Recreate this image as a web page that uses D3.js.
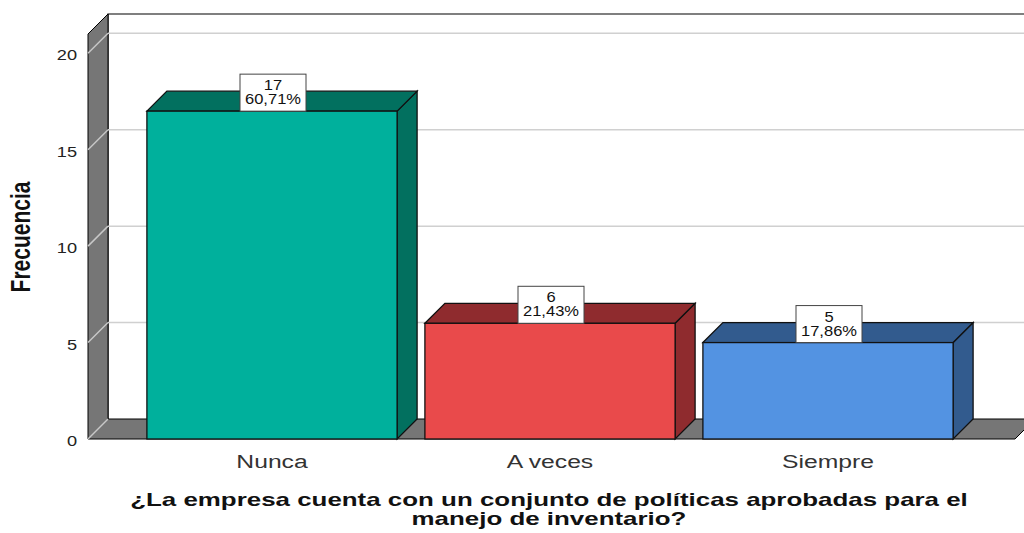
<!DOCTYPE html>
<html>
<head>
<meta charset="utf-8">
<script src="https://cdn.jsdelivr.net/npm/d3@7"></script>
<style>
  body { margin: 0; background: #fff; }
  svg { display: block; font-family: "Liberation Sans", Arial, sans-serif; }
</style>
</head>
<body>
<svg id="chart"></svg>
<script>
var categories = ["Nunca", "A veces", "Siempre"];
var counts = [17, 6, 5];
var percents = ["60,71%", "21,43%", "17,86%"];
var yTicks = [0, 5, 10, 15, 20];
var xTitle = ["¿La empresa cuenta con un conjunto de políticas aprobadas para el", "manejo de inventario?"];
var yTitle = "Frecuencia";

var fronts = ["#00b09c", "#e94a4b", "#5393e2"],
	sides = ["#02705f", "#8f2b2e", "#325b8e"];

var width = 1024, height = 533,
	depth = {x: 20, y: -20},
	left = 88, right = 1015,
	stretch = 1.3,
	x = d3.scaleBand().domain(categories).range([133, 967]).paddingInner(0.1).paddingOuter(0.05),
	y = d3.scaleLinear().domain([0, 21]).range([439, 34]);

var svg = d3.select("#chart").attr("width", width).attr("height", height);

function pts(a) { return a.map(function(p) { return p.join(","); }).join(" "); }

// the original picture is horizontally stretched, so text is too
function place(sel, fx, fy, sx) {
	return sel.attr("transform", function(d, i) {
		return "translate(" + fx(d, i) + "," + fy(d, i) + ") scale(" + sx + ",1)";
	});
}

// back wall outline
svg.append("path")
	.attr("d", "M" + (left + depth.x) + "," + (y(0) + depth.y) + "V" + (y(21) + depth.y) + "H" + (width + 5))
	.attr("fill", "none").attr("stroke", "#000").attr("stroke-width", 1.2);

// left wall
svg.append("polygon")
	.attr("points", pts([[left, y(21)], [left + depth.x, y(21) + depth.y], [left + depth.x, y(0) + depth.y], [left, y(0)]]))
	.attr("fill", "#767676").attr("stroke", "#000").attr("stroke-width", 1);

// floor
svg.append("polygon")
	.attr("points", pts([[left, y(0)], [left + depth.x, y(0) + depth.y], [right + depth.x, y(0) + depth.y], [right, y(0)]]))
	.attr("fill", "#767676").attr("stroke", "#000").attr("stroke-width", 1);

// gridlines
var grid = svg.append("g");
yTicks.forEach(function(t) {
	if (t > 0) {
		grid.append("line")
			.attr("x1", left + depth.x).attr("x2", width + 5)
			.attr("y1", y(t) + depth.y).attr("y2", y(t) + depth.y)
			.attr("stroke", "#d0d0d0").attr("stroke-width", 1.5);
	}
	grid.append("line")
		.attr("x1", left).attr("x2", left + depth.x)
		.attr("y1", y(t)).attr("y2", y(t) + depth.y)
		.attr("stroke", "#c8c8c8").attr("stroke-width", 1.5);
});

// y tick labels
place(svg.append("g").selectAll("text")
	.data(yTicks)
	.enter().append("text"), function() { return 77; }, function(d) { return y(d) + 7; }, stretch)
	.attr("text-anchor", "end").attr("font-size", 14).attr("fill", "#222")
	.text(function(d) { return d; });

// bars
var bars = svg.append("g").selectAll("g")
	.data(categories)
	.enter().append("g");

bars.each(function(c, i) {
	var g = d3.select(this),
		x0 = x(c), x1 = x(c) + x.bandwidth(),
		yt = y(counts[i]), yb = y(0);
	g.append("polygon")
		.attr("points", pts([[x1, yt], [x1 + depth.x, yt + depth.y], [x1 + depth.x, yb + depth.y], [x1, yb]]))
		.attr("fill", sides[i]).attr("stroke", "#111").attr("stroke-width", 1.3);
	g.append("polygon")
		.attr("points", pts([[x0, yt], [x0 + depth.x, yt + depth.y], [x1 + depth.x, yt + depth.y], [x1, yt]]))
		.attr("fill", sides[i]).attr("stroke", "#111").attr("stroke-width", 1.3);
	g.append("rect")
		.attr("x", x0).attr("y", yt).attr("width", x.bandwidth()).attr("height", yb - yt)
		.attr("fill", fronts[i]).attr("stroke", "#111").attr("stroke-width", 1.3);

	// value label
	var cx = x0 + x.bandwidth() / 2 + 1;
	g.append("rect")
		.attr("x", cx - 33).attr("y", yt - 37).attr("width", 66).attr("height", 37)
		.attr("fill", "#fff").attr("stroke", "#444").attr("stroke-width", 1);
	place(g.selectAll("text.v")
		.data([counts[i], percents[i]])
		.enter().append("text").attr("class", "v"),
		function() { return cx; }, function(d, j) { return yt - 21 + j * 14; }, 1.18)
		.attr("text-anchor", "middle").attr("font-size", 14).attr("fill", "#111")
		.text(function(d) { return d; });
});

// category labels
place(svg.append("g").selectAll("text")
	.data(categories)
	.enter().append("text"),
	function(d) { return x(d) + x.bandwidth() / 2; }, function() { return 468; }, stretch)
	.attr("text-anchor", "middle").attr("font-size", 19).attr("fill", "#333")
	.text(function(d) { return d; });

// axis titles
place(svg.append("g").selectAll("text")
	.data(xTitle)
	.enter().append("text"),
	function() { return 549; }, function(d, i) { return 506 + i * 19; }, 1.44)
	.attr("text-anchor", "middle").attr("font-size", 18).attr("font-weight", "bold").attr("fill", "#111")
	.text(function(d) { return d; });

svg.append("text")
	.attr("transform", "translate(30,237) scale(" + stretch + ",1) rotate(-90)")
	.attr("text-anchor", "middle").attr("font-size", 21).attr("font-weight", "bold").attr("fill", "#111")
	.text(yTitle);
</script>
</body>
</html>
